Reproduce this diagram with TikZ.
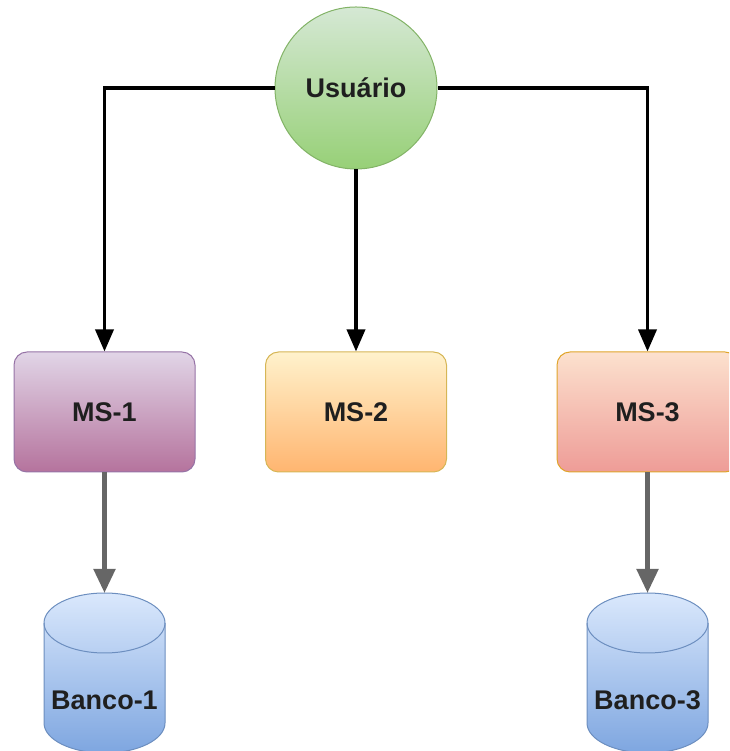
\documentclass[tikz,border=0pt]{standalone}
\usepackage{fontspec}
\setmainfont{Liberation Sans}
\usepackage{tikz}
\usetikzlibrary{arrows.meta,positioning}

\definecolor{userTop}{HTML}{D5E8D4}
\definecolor{userBot}{HTML}{97D077}
\definecolor{userLine}{HTML}{82B366}
\definecolor{msOneTop}{HTML}{E1D5E7}
\definecolor{msOneBot}{HTML}{B5739D}
\definecolor{msOneLine}{HTML}{9673A6}
\definecolor{msTwoTop}{HTML}{FFF2CC}
\definecolor{msTwoBot}{HTML}{FFB570}
\definecolor{msTwoLine}{HTML}{D6B656}
\definecolor{msThreeTop}{HTML}{FCE1CE}
\definecolor{msThreeBot}{HTML}{EE9C97}
\definecolor{msThreeLine}{HTML}{E0A52A}
\definecolor{dbTop}{HTML}{DAE8FC}
\definecolor{dbBot}{HTML}{7EA6E0}
\definecolor{dbLine}{HTML}{6C8EBF}
\definecolor{linkGray}{HTML}{666666}

\tikzset{
  lbl/.style={font=\fontsize{27}{32}\selectfont\bfseries, text=black!88},
  msbox/.style={lbl, rectangle, rounded corners=13pt, line width=1pt,
    minimum width=181pt, minimum height=120pt},
  dbbody/.style={line width=1pt, draw=dbLine, top color=dbTop, bottom color=dbBot},
  calls/.style={line width=3.5pt, -{Triangle[length=22pt,width=18pt]}},
  stores/.style={line width=5pt, linkGray, -{Triangle[length=24pt,width=21pt]}}
}

\begin{document}
\begin{tikzpicture}[x=1pt,y=1pt]
  \useasboundingbox (0,0) rectangle (729,751);
  \clip (0,0) rectangle (729,751);
  % usuário no topo
  \node[lbl, circle, minimum size=162pt, line width=1pt, draw=userLine,
        top color=userTop, bottom color=userBot] (user) at (356,663) {Usuário};
  % microsserviços
  \node[msbox, draw=msOneLine, top color=msOneTop, bottom color=msOneBot]
       (ms1) at (104.5,339) {MS-1};
  \node[msbox, draw=msTwoLine, top color=msTwoTop, bottom color=msTwoBot]
       (ms2) at (356,339) {MS-2};
  \node[msbox, draw=msThreeLine, top color=msThreeTop, bottom color=msThreeBot]
       (ms3) at (647.5,339) {MS-3};
  % bancos (cilindros)
  \foreach \x in {104.5,647.5}{
    \path[dbbody] (\x-60.5,128) -- (\x-60.5,28)
      arc[start angle=180, end angle=360, x radius=60.5, y radius=30]
      -- (\x+60.5,128)
      arc[start angle=0, end angle=180, x radius=60.5, y radius=30] -- cycle;
    \draw[dbLine, line width=1pt] (\x-60.5,128)
      arc[start angle=180, end angle=360, x radius=60.5, y radius=30];
  }
  \coordinate (db1top) at (104.5,158);
  \coordinate (db3top) at (647.5,158);
  \node[lbl] (db1) at (104.5,51) {Banco-1};
  \node[lbl] (db3) at (647.5,51) {Banco-3};
  % ligações
  \draw[calls] (user) -| (ms1);
  \draw[calls] (user) -- (ms2);
  \draw[calls] (user) -| (ms3);
  \draw[stores] (ms1) -- (db1top);
  \draw[stores] (ms3) -- (db3top);
\end{tikzpicture}
\end{document}
